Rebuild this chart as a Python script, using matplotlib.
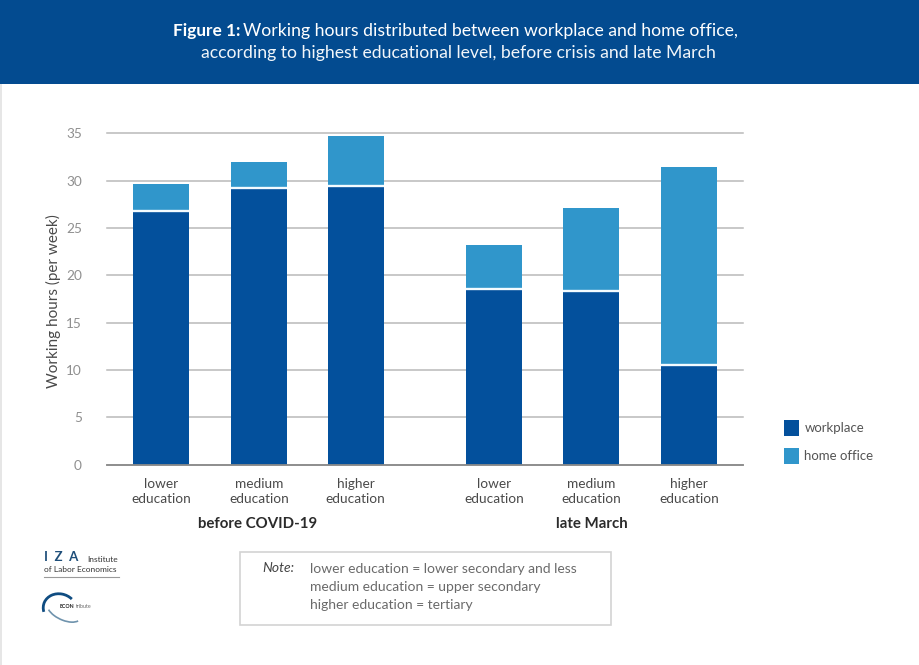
import matplotlib
matplotlib.use("Agg")
import matplotlib.pyplot as plt
from matplotlib.patches import Rectangle, Arc

plt.rcParams['font.family'] = ['Lato', 'DejaVu Sans']

W, H = 920, 665
categories = ["lower\neducation", "medium\neducation", "higher\neducation"] * 2
workplace = [26.8, 29.2, 29.5, 18.6, 18.3, 10.5]
home_office = [2.9, 2.8, 5.2, 4.6, 8.8, 21.0]
positions = [0, 1, 1.99, 3.41, 4.4, 5.4]
yticks = [0, 5, 10, 15, 20, 25, 30, 35]
groups = ["before COVID-19", "late March"]
series_names = ["workplace", "home office"]
DARK, LIGHT, BAND = "#03509c", "#3096cb", "#034b90"
GRID, TXT, TICK = "#b9b9b9", "#4a4a4a", "#8f8f8f"

fig = plt.figure(figsize=(W / 100, H / 100), dpi=100, facecolor="white")

def px(x, y):
    return x / W, 1 - y / H

def ftext(x, y, s, **kw):
    fx, fy = px(x, y)
    return fig.text(fx, fy, s, **kw)

# header band
fig.add_artist(Rectangle((0, 1 - 84 / H), 1, 84 / H, transform=fig.transFigure, color=BAND, lw=0))
fig.add_artist(Rectangle((0, 0), 2 / W, 1 - 84 / H, transform=fig.transFigure, color="#e6e6e6", lw=0))
ftext(173, 31, "Figure 1:", color="white", fontsize=12.4, fontweight="bold", va="center", ha="left")
ftext(243, 31, "Working hours distributed between workplace and home office,", color="white",
      fontsize=12.7, va="center", ha="left")
ftext(458, 53, "according to highest educational level, before crisis and late March", color="#f2f6fa",
      fontsize=12.7, va="center", ha="center")

# axes
ax = fig.add_axes([107 / W, 1 - 464.5 / H, (743 - 107) / W, (464.5 - 133.5) / H])
ax.set_xlim(-0.552, 5.952)
ax.set_ylim(0, 35)
ax.set_yticks(yticks)
ax.set_xticks(positions)
ax.set_xticklabels(categories, fontsize=9.8, color=TXT, linespacing=1.25)
ax.tick_params(axis="x", length=0, pad=10)
ax.tick_params(axis="y", length=0, pad=18, labelsize=9.8, labelcolor=TICK)
ax.grid(axis="y", color=GRID, lw=1.1, zorder=0, clip_on=False)
ax.set_axisbelow(True)
for s in ["top", "right", "left"]:
    ax.spines[s].set_visible(False)
ax.spines["bottom"].set_color("#8a8a8a")
ax.spines["bottom"].set_linewidth(1.3)
ax.patch.set_alpha(0)

bw = 0.573
ax.bar(positions, workplace, width=bw, color=DARK, lw=0, zorder=2)
ax.bar(positions, home_office, width=bw, bottom=workplace, color=LIGHT, lw=0, zorder=2)
for x, v in zip(positions, workplace):
    ax.plot([x - bw / 2, x + bw / 2], [v, v], color="#f4fbff", lw=1.7, zorder=3, solid_capstyle="butt")

ftext(53, 301, "Working hours (per week)", rotation=90, fontsize=11, color=TXT, va="center", ha="center")
ftext(258, 524.5, groups[0], fontsize=10.8, fontweight="bold", color="#2b2b2b", va="center", ha="center")
ftext(592, 524.5, groups[1], fontsize=10.8, fontweight="bold", color="#2b2b2b", va="center", ha="center")

# legend
for y, c, name in [(428, DARK, series_names[0]), (456, LIGHT, series_names[1])]:
    fig.add_artist(Rectangle(px(784, y + 8), 15 / W, 16 / H, transform=fig.transFigure, color=c, lw=0))
    ftext(804.5, y + 0.5, name, fontsize=9.5, color="#555555", va="center", ha="left")

# note box
fig.add_artist(Rectangle(px(240, 625), (611 - 240) / W, (625 - 552) / H, transform=fig.transFigure,
                         fc="white", ec="#d3d3d3", lw=1.2))
ftext(262, 568.5, "Note:", fontsize=10, style="italic", color="#444444", va="center", ha="left")
for y, s in zip([569, 587, 605], ["lower education = lower secondary and less",
                                  "medium education = upper secondary",
                                  "higher education = tertiary"]):
    ftext(310, y, s, fontsize=10, color="#6a6a6a", va="center", ha="left")

# logos
ftext(44, 557, "I  Z  A", fontsize=9.5, fontweight="bold", color="#1f4f7a", va="center", ha="left")
ftext(87, 559, "Institute", fontsize=6, color="#333333", va="center", ha="left")
ftext(44, 570, "of Labor Economics", fontsize=6, color="#333333", va="center", ha="left")
fig.add_artist(plt.Line2D([44 / W, 119 / W], [1 - 576.5 / H] * 2, color="#9a9a9a", lw=0.8))
ftext(60, 607, "ECON", fontsize=3.8, fontweight="bold", color="#222222", va="center", ha="left")
ftext(76, 607, "tribute", fontsize=3.8, color="#666666", va="center", ha="left")
logo = fig.add_axes([40 / W, 1 - 628 / H, 48 / W, 36 / H])
logo.set_xlim(40, 88); logo.set_ylim(628, 592); logo.axis("off"); logo.patch.set_alpha(0)
logo.add_patch(Arc((60, 609), 34, 30, angle=20, theta1=150, theta2=300, color="#0f4c81", lw=2))
logo.add_patch(Arc((64, 611), 36, 18, angle=25, theta1=10, theta2=160, color="#6f93ad", lw=1.2))

fig.savefig("out.png", dpi=100, facecolor="white")
